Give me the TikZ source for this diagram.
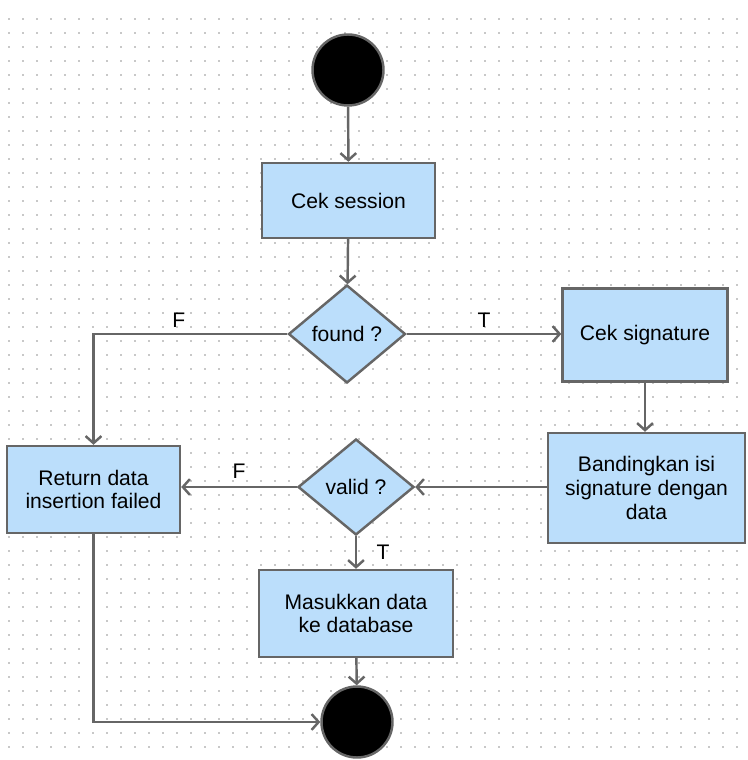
\documentclass[tikz,border=0pt]{standalone}
\usepackage{fontspec}
\setmainfont{Liberation Sans}
\usetikzlibrary{shapes.geometric,arrows.meta}
\definecolor{boxfill}{RGB}{187,222,251}
\definecolor{linegray}{RGB}{102,102,102}
\definecolor{dotgray}{RGB}{200,200,200}
\tikzset{
	act/.style={rectangle, draw=linegray, fill=boxfill, line width=1.4pt, align=center, inner sep=2pt},
	decide/.style={diamond, draw=linegray, fill=boxfill, line width=1.4pt, inner sep=0pt},
	blob/.style={circle, draw=linegray, fill=black, line width=1.4pt, minimum size=1.42cm, inner sep=0pt},
	flow/.style={draw=linegray, line width=1.4pt, -{Straight Barb[length=4pt,width=9pt,line width=1.4pt]}},
	lbl/.style={text=black, inner sep=2pt}
}
\begin{document}
\begin{tikzpicture}[x=0.02cm, y=-0.02cm, font=\fontsize{12}{13.5}\selectfont]
				\useasboundingbox (0,0) rectangle (747,760);
				
				\foreach \i in {9,23,...,747}
					\foreach \j in {19,33,...,760}
						\fill[dotgray] (\i-0.6,\j-1.2) rectangle ++(1.4,2.4);
				
				\node[blob] (start) at (348,70) {};
				\node[act, minimum width=3.46cm, minimum height=1.5cm] (sess) at (348.5,200.5) {Cek session};
				\node[decide, minimum width=2.34cm, minimum height=1.96cm] (found) at (347,334) {found ?};
				\node[act, minimum width=3.3cm, minimum height=1.86cm] (sig) at (645,335) {Cek signature};
				\node[act, minimum width=3.94cm, minimum height=2.2cm] (band) at (646.5,488) {Bandingkan isi\\signature dengan\\data};
				\node[decide, minimum width=2.32cm, minimum height=1.92cm] (valid) at (356,487) {valid ?};
				\node[act, minimum width=3.46cm, minimum height=1.74cm] (ret) at (93.5,489.5) {Return data\\insertion failed};
				\node[act, minimum width=3.88cm, minimum height=1.74cm] (mas) at (356,613.5) {Masukkan data\\ke database};
				\node[blob] (end) at (357,722) {};
				
				\draw[flow] (start) -- (sess);
				\draw[flow] (sess) -- (found);
				\draw[flow] (found.east) -- node[lbl, above, yshift=1pt] {T} (sig.west |- found.east);
				\draw[flow] (found.west) -| node[lbl, pos=0.28, above, yshift=1pt] {F} (ret.north);
				\draw[flow] (sig.south) -- (sig.south |- band.north);
				\draw[flow] (band.west |- valid.east) -- (valid.east);
				\draw[flow] (valid.west) -- node[lbl, above, yshift=2pt] {F} (ret.east |- valid.west);
				\draw[flow] (valid.south) -- node[lbl, right, xshift=9pt] {T} (mas.north);
				\draw[flow] (mas) -- (end);
				\draw[flow] (ret.south) |- (end.west);
			\end{tikzpicture}
\end{document}
